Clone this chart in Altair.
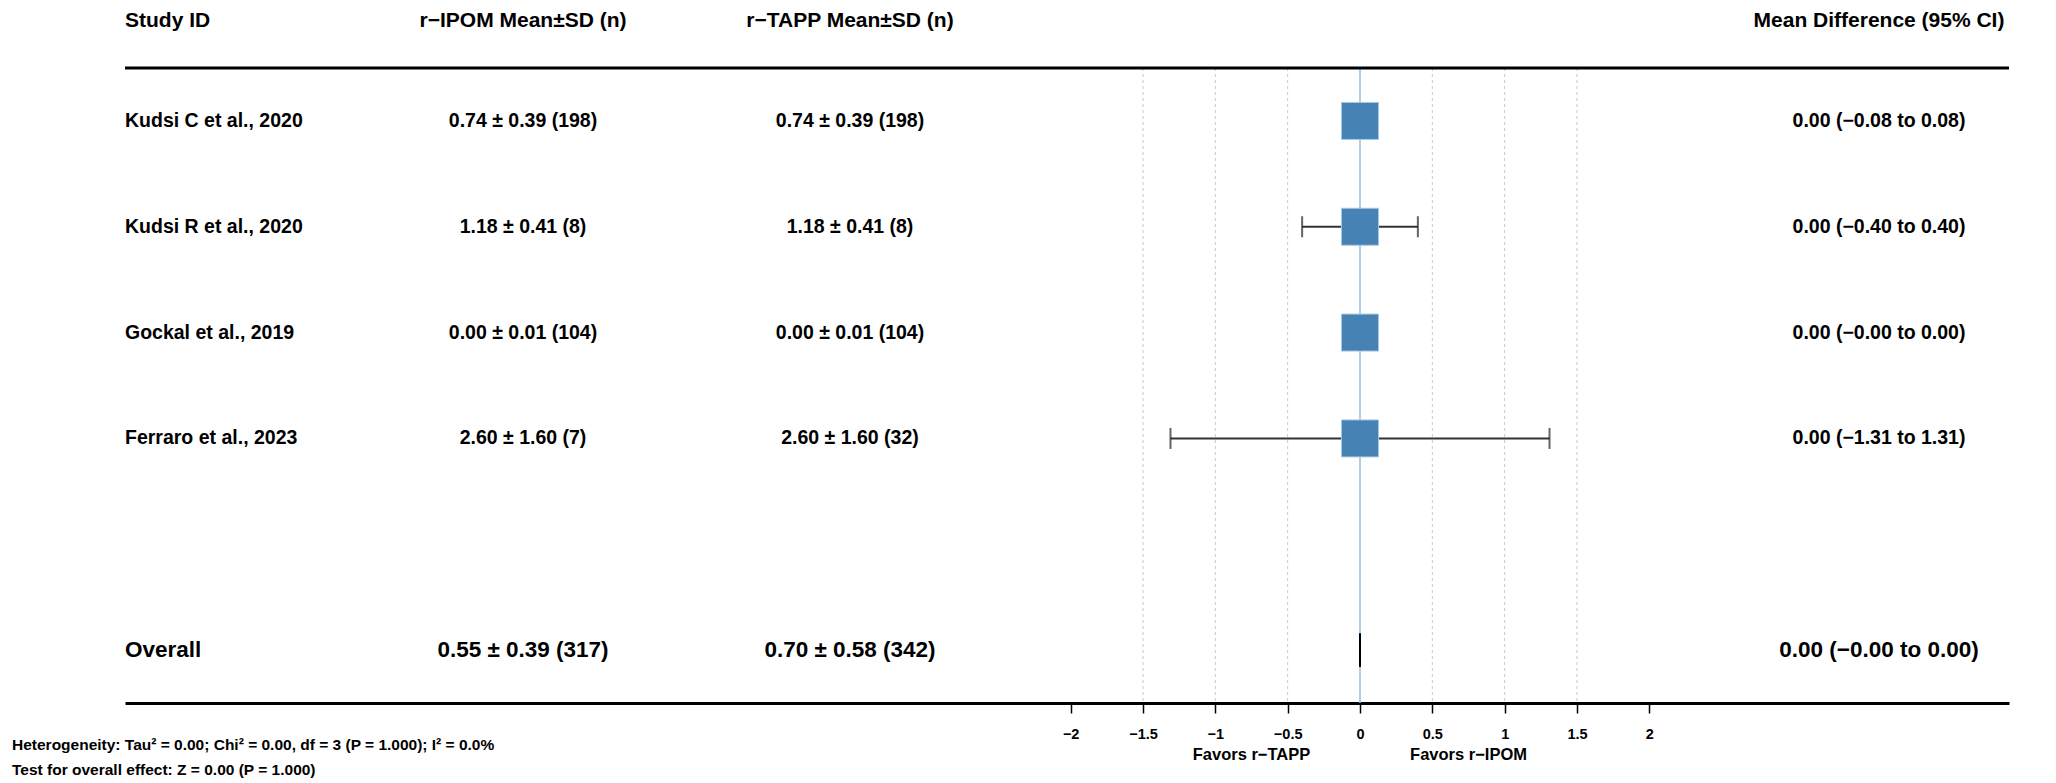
import altair as alt
import pandas as pd

# ---------------- data ----------------
studies = ["Kudsi C et al., 2020", "Kudsi R et al., 2020", "Gockal et al., 2019", "Ferraro et al., 2023"]
ipom_mean = [0.74, 1.18, 0.00, 2.60]
ipom_sd = [0.39, 0.41, 0.01, 1.60]
ipom_n = [198, 8, 104, 7]
tapp_mean = [0.74, 1.18, 0.00, 2.60]
tapp_sd = [0.39, 0.41, 0.01, 1.60]
tapp_n = [198, 8, 104, 32]
md = [0.00, 0.00, 0.00, 0.00]
ci_lo = [-0.08, -0.40, -0.00, -1.31]
ci_hi = [0.08, 0.40, 0.00, 1.31]

overall_label = "Overall"
overall_ipom = [0.55, 0.39, 317]
overall_tapp = [0.70, 0.58, 342]
overall_md = [0.00, -0.00, 0.00]   # estimate, lower, upper

headers = ["Study ID", "r−IPOM Mean±SD (n)", "r−TAPP Mean±SD (n)", "Mean Difference (95% CI)"]
axis_ticks = [-2, -1.5, -1, -0.5, 0, 0.5, 1, 1.5, 2]
grid_vals = [-1.5, -1, -0.5, 0.5, 1, 1.5]
favors_text = ["Favors r−TAPP", "Favors r−IPOM"]
favors_at = [-0.75, 0.75]
footer_lines = [
    "Heterogeneity: Tau² = 0.00; Chi² = 0.00, df = 3 (P = 1.000); I² = 0.0%",
    "Test for overall effect: Z = 0.00 (P = 1.000)",
]

# ---------------- helpers ----------------
def f2(v):
    return f"{v:.2f}".replace("-", "−")

def msd(m, s, n):
    return f"{f2(m)} ± {f2(s)} ({n})"

def ci(m, lo, hi):
    return f"{f2(m)} ({f2(lo)} to {f2(hi)})"

study_rows = list(range(1, len(studies) + 1))
overall_row = len(studies) + 2

df_s = pd.DataFrame({
    "row": study_rows,
    "label": studies,
    "ipom": [msd(m, s, n) for m, s, n in zip(ipom_mean, ipom_sd, ipom_n)],
    "tapp": [msd(m, s, n) for m, s, n in zip(tapp_mean, tapp_sd, tapp_n)],
    "mdtxt": [ci(m, l, h) for m, l, h in zip(md, ci_lo, ci_hi)],
    "md": md, "lo": ci_lo, "hi": ci_hi,
})
df_o = pd.DataFrame({
    "row": [overall_row],
    "label": [overall_label],
    "ipom": [msd(*overall_ipom)],
    "tapp": [msd(*overall_tapp)],
    "mdtxt": [ci(*overall_md)],
})
df_caps = pd.DataFrame({
    "row": study_rows * 2,
    "v": ci_lo + ci_hi,
})
half_h = 0.16
df_diamond = pd.DataFrame({
    "k": [0, 1, 2, 3, 4],
    "v": [overall_md[1], overall_md[0], overall_md[2], overall_md[0], overall_md[1]],
    "row": [overall_row, overall_row - half_h, overall_row, overall_row + half_h, overall_row],
})
df_hdr = pd.DataFrame({"row": [0], "h0": [headers[0]], "h1": [headers[1]], "h2": [headers[2]], "h3": [headers[3]]})
df_grid = pd.DataFrame({"v": grid_vals})
df_zero = pd.DataFrame({"v": [0]})
df_top = pd.DataFrame({"row": [0.5]})
df_fav = pd.DataFrame({"v": favors_at, "t": favors_text})

# ---------------- layout ----------------
W, H = 1884, 635
PX_PER_UNIT = 144.67
X_MIN = -1235 / PX_PER_UNIT
X_MAX = 649 / PX_PER_UNIT
FONT = "Liberation Sans, Arial, sans-serif"

xs = alt.Scale(domain=[X_MIN, X_MAX], nice=False, zero=False)
ys = alt.Scale(domain=[0.5, 6.5], nice=False, zero=False, reverse=True)
xax = alt.Axis(values=axis_ticks, format=".2~f", grid=False, title=None,
               domainColor="black", domainWidth=3, tickColor="black", tickWidth=1.5,
               tickSize=10, labelFont=FONT, labelFontSize=14.5, labelFontWeight="bold",
               labelColor="black", labelPadding=14, labelFlush=False, labelOverlap=False)

def X(field):
    return alt.X(f"{field}:Q", scale=xs, axis=xax)

def Y(field="row"):
    return alt.Y(f"{field}:Q", scale=ys, axis=None)

grid = alt.Chart(df_grid).mark_rule(color="#c8c8c8", strokeDash=[3, 3], strokeWidth=1).encode(x=X("v"))
zero = alt.Chart(df_zero).mark_rule(color="#8ec1e8", strokeWidth=1.5).encode(x=X("v"))
top_line = alt.Chart(df_top).mark_rule(color="black", strokeWidth=3).encode(y=Y())

err = alt.Chart(df_s).mark_rule(color="#333333", strokeWidth=2).encode(
    x=X("lo"), x2="hi:Q", y=Y())
caps = alt.Chart(df_caps).mark_tick(color="#222222", orient="vertical", size=21, thickness=2).encode(
    x=X("v"), y=Y())
squares = alt.Chart(df_s).mark_square(size=1369, filled=True, color="#4682b4",
                                      stroke="#a6c8e6", strokeWidth=1, opacity=1).encode(
    x=X("md"), y=Y())
diamond = alt.Chart(df_diamond).mark_line(color="black", strokeWidth=2).encode(
    x=X("v"), y=Y(), order="k:Q")

def txt(df, field, xpix, align, size, dy=0):
    return alt.Chart(df).mark_text(align=align, baseline="middle", font=FONT, fontWeight="bold",
                                   fontSize=size, color="black", dy=dy).encode(
        x=alt.value(xpix), y=Y(), text=f"{field}:N")

COLS = [(0, "left"), (398, "center"), (725, "center"), (1754, "center")]

layers = [grid, zero, err, caps, squares, diamond, top_line]
for i, (xp, al) in enumerate(COLS):
    layers.append(txt(df_hdr, f"h{i}", xp, al, 21, dy=6))
for (xp, al), f in zip(COLS, ["label", "ipom", "tapp", "mdtxt"]):
    layers.append(txt(df_s, f, xp, al, 19.5))
    layers.append(txt(df_o, f, xp, al, 22.5))

fav = alt.Chart(df_fav).mark_text(align="center", baseline="middle", font=FONT, fontWeight="bold",
                                  fontSize=16.5, color="black").encode(
    x=X("v"), y=alt.value(687), text="t:N")
layers.append(fav)

df_foot = pd.DataFrame({"t": footer_lines, "yy": [677, 702]})
foot = alt.Chart(df_foot).mark_text(align="left", baseline="middle", font=FONT, fontWeight="bold",
                                    fontSize=15.5, color="black").encode(
    x=alt.value(-113), y=alt.Y("yy:Q", scale=None), text="t:N")
layers.append(foot)

chart = alt.layer(*layers).properties(
    width=W, height=H,
    autosize=alt.AutoSizeParams(type="none"),
    padding={"left": 117, "top": 60, "right": 39, "bottom": 80},
    background="white",
).configure_view(stroke=None)

chart.save("out.html", embed_options={"renderer": "svg", "actions": False})
